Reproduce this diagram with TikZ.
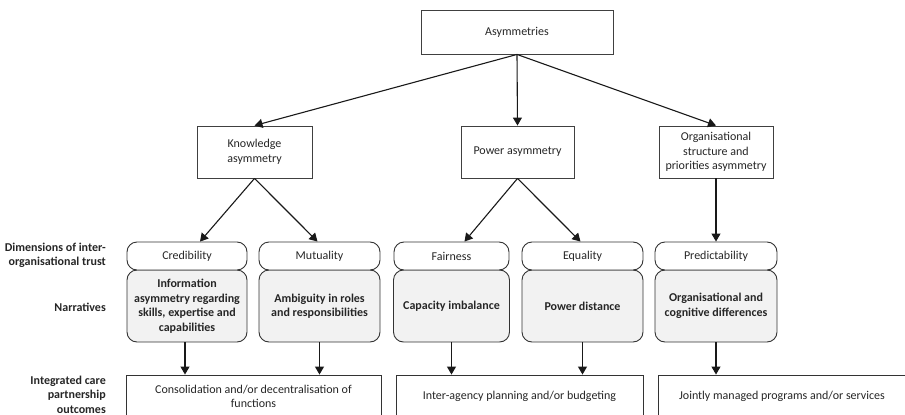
\documentclass[tikz,border=0pt]{standalone}
\usepackage{fontspec}
\setmainfont{Carlito}
\usetikzlibrary{arrows.meta,calc}
\begin{document}
\begin{tikzpicture}[x=1pt,y=-1pt,
  every node/.style={font=\fontsize{12}{14.5}\selectfont, text=black!85, align=center, inner sep=2pt},
  sqbox/.style={draw=black!75, line width=0.9pt, fill=white, minimum height=52},
  trustbox/.style={draw=black!80, line width=0.9pt, fill=white, rounded corners=10pt, minimum height=28},
  narrbox/.style={draw=black!80, line width=0.9pt, fill=black!5, rounded corners=10pt, minimum height=72, font=\fontsize{12}{14.5}\selectfont\bfseries},
  outbox/.style={draw=black!80, line width=0.9pt, fill=white, minimum height=43},
  sidelabel/.style={anchor=east, align=right, font=\fontsize{12}{14.5}\selectfont\bfseries},
  arr/.style={line width=1.1pt, draw=black!90, -{Triangle[length=8pt,width=9pt]}}
]
\useasboundingbox (0,0) rectangle (905,415);
\clip (0,0) rectangle (905,415);

% top level
\node[sqbox, minimum width=192, minimum height=44] (asym) at (517,32) {Asymmetries};
\node[sqbox, minimum width=115] (know) at (254.5,152) {Knowledge\\asymmetry};
\node[sqbox, minimum width=113] (power) at (517.5,152) {Power asymmetry};
\node[sqbox, minimum width=114] (org) at (716,152) {Organisational\\structure and\\priorities asymmetry};

% trust dimensions and narratives
\node[narrbox, minimum width=120] (n1) at (187,306) {Information\\asymmetry regarding\\skills, expertise and\\capabilities};
\node[trustbox, minimum width=120] (cred) at (187,256) {Credibility};
\node[narrbox, minimum width=121] (n2) at (319.5,306) {Ambiguity in roles\\and responsibilities};
\node[trustbox, minimum width=121] (mut) at (319.5,256) {Mutuality};
\node[narrbox, minimum width=116] (n3) at (451.5,306) {Capacity imbalance};
\node[trustbox, minimum width=115] (fair) at (451.5,256) {Fairness};
\node[narrbox, minimum width=121] (n4) at (582.5,306) {Power distance};
\node[trustbox, minimum width=121] (equal) at (582.5,256) {Equality};
\node[narrbox, minimum width=122] (n5) at (716,306) {Organisational and\\cognitive differences};
\node[trustbox, minimum width=122] (pred) at (716,256) {Predictability};

% outcomes
\node[outbox, minimum width=255] (o1) at (253.5,396.5) {Consolidation and/or decentralisation of\\functions};
\node[outbox, minimum width=247] (o2) at (519.5,396.5) {Inter-agency planning and/or budgeting};
\node[outbox, minimum width=248] (o3) at (782,396.5) {Jointly managed programs and/or services};

% side labels
\node[sidelabel] (l1) at (108,255.5) {Dimensions of inter-\\organisational trust};
\node[sidelabel] (l2) at (108,307) {Narratives};
\node[sidelabel] (l3) at (108,394.5) {Integrated care\\partnership\\outcomes};

% connectors
\draw[arr] (asym.south) -- (know.north);
\draw[arr] (asym.south) -- (power.north);
\draw[arr] (asym.south) -- (org.north);
\draw[arr] (know.south) -- ($(cred.north)+(13,0)$);
\draw[arr] (know.south) -- ($(mut.north)+(-2,0)$);
\draw[arr] (power.south) -- ($(fair.north)+(13,0)$);
\draw[arr] (power.south) -- ($(equal.north)+(-2,0)$);
\draw[arr] (org.south) -- (pred.north);
\draw[arr] ($(n1.south)+(-2,0)$) -- ($(n1.south |- o1.north)+(-2,0)$);
\draw[arr] (n2.south) -- (n2.south |- o1.north);
\draw[arr] (n3.south) -- (n3.south |- o2.north);
\draw[arr] (n4.south) -- (n4.south |- o2.north);
\draw[arr] (n5.south) -- (n5.south |- o3.north);
\end{tikzpicture}
\end{document}
